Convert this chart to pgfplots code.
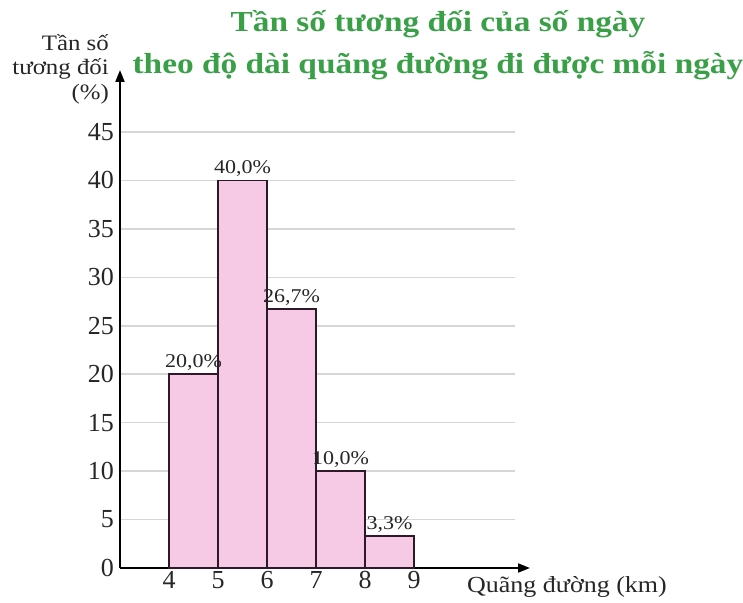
\documentclass[border=0pt]{standalone}
\usepackage{fontspec}
\setmainfont{Liberation Serif}
\newfontfamily\widefont[FakeStretch=1.13]{Liberation Serif}
\newfontfamily\titlefont[FakeStretch=1.15]{Liberation Serif}
\usepackage{pgfplots}
\pgfplotsset{compat=1.18}
\usetikzlibrary{arrows.meta}
\definecolor{barpink}{RGB}{246,202,228}
\definecolor{baredge}{RGB}{45,25,40}
\definecolor{titlegreen}{RGB}{58,160,72}
\definecolor{gridgray}{RGB}{214,214,214}
\begin{document}
\begin{tikzpicture}[x=1pt,y=1pt]
\useasboundingbox (0,0) rectangle (743,602);
\begin{axis}[
  at={(120pt,34pt)}, anchor=south west,
  scale only axis, width=395pt, height=436pt,
  xmin=3, xmax=11.06, ymin=0, ymax=45,
  axis lines=left,
  axis line style={line width=2pt, -{Triangle[length=12pt,width=9pt]}},
  x axis line style={shorten >=-15pt},
  y axis line style={shorten >=-62pt},
  xtick={4,5,6,7,8,9}, ytick={0,5,...,45},
  major tick length=0pt,
  ymajorgrids, grid style={gridgray, line width=1.5pt},
  tick label style={font=\fontsize{26}{28}\selectfont, text=black!85},
  yticklabel style={inner sep=6pt},
  xticklabel style={inner sep=3pt},
  /pgf/number format/assume math mode=true,
  clip=false,
]
\addplot[ybar interval, fill=barpink, draw=baredge, line width=1.8pt]
  coordinates {(4,20) (5,40) (6,26.7) (7,10) (8,3.3) (9,3.3)};
\addplot[draw=none, mark=none, nodes near coords, point meta=explicit symbolic,
  nodes near coords style={font=\widefont\fontsize{19.5}{20}\selectfont, anchor=south, text=black!85}]
  coordinates {(4.5,20) [20{,}0\%] (5.5,40) [40{,}0\%] (6.5,26.7) [26{,}7\%] (7.5,10) [10{,}0\%] (8.5,3.3) [3{,}3\%]};
\end{axis}
\node[anchor=north east, align=right, font=\widefont\fontsize{22}{24.5}\selectfont, inner sep=0pt, text=black!85] at (109,568) {Tần số\\tương đối\\(\%)};
\node[anchor=center, font=\widefont\fontsize{23}{24}\selectfont, inner sep=0pt, text=black!85] at (567,15) {Quãng đường (km)};
\node[anchor=center, align=center, font=\titlefont\bfseries\fontsize{29}{42}\selectfont, text=titlegreen, inner sep=0pt] at (438,557) {Tần số tương đối của số ngày\\theo độ dài quãng đường đi được mỗi ngày};
\end{tikzpicture}
\end{document}
